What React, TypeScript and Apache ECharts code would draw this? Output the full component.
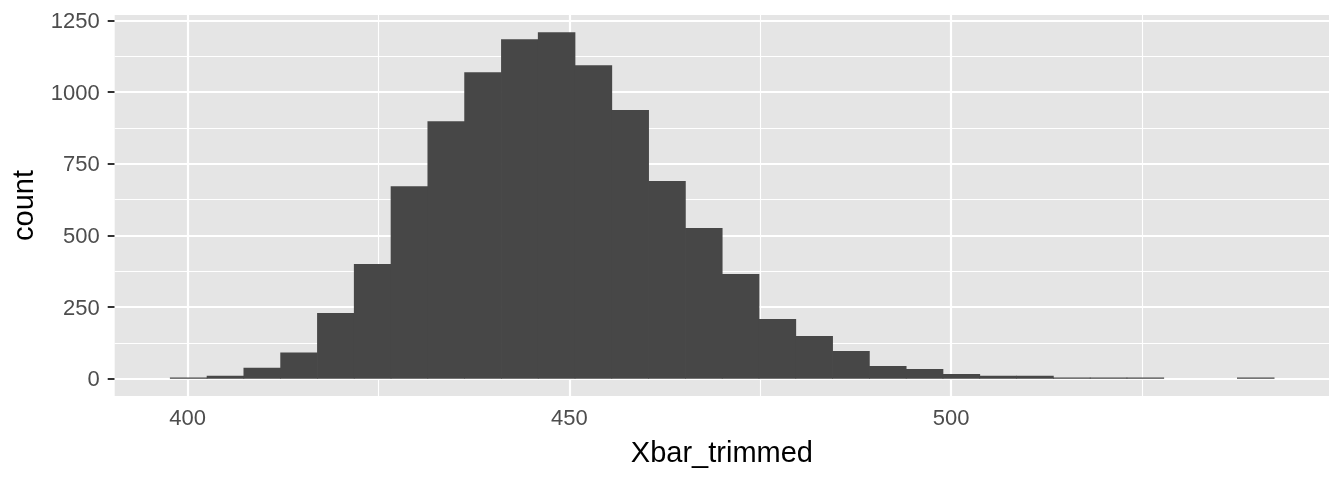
import React, { useEffect, useRef } from "react";
import * as echarts from "echarts";

// Histogram of Xbar_trimmed (30 bins)
const binStart = 397.68;
const binWidth = 4.82;
const counts = [
  4, 10, 38, 91, 229, 400, 672, 899, 1070, 1185,
  1209, 1094, 938, 690, 526, 365, 208, 149, 97, 44,
  34, 16, 10, 10, 4, 4, 4, 0, 0, 4,
];

const xMin = 390.45;
const xMax = 549.51;
const yMin = -60.45;
const yMax = 1269.45;

const xMajor = [400, 450, 500];
const xMinor = [425, 475, 525];
const yMajor = [0, 250, 500, 750, 1000, 1250];
const yMinor = [125, 375, 625, 875, 1125];

const xTitle = "Xbar_trimmed";
const yTitle = "count";

const FONT = '"Liberation Sans", Arial, Helvetica, sans-serif';

export default function App() {
  const ref = useRef<HTMLDivElement>(null);

  useEffect(() => {
    if (!ref.current) return;
    const chart = echarts.init(ref.current, null, { renderer: "svg" });

    const bins = counts.map((c, i) => [
      binStart + i * binWidth,
      binStart + (i + 1) * binWidth,
      c,
    ]);

    const gridLines: any[] = [];
    xMinor.forEach((v) =>
      gridLines.push({ xAxis: v, lineStyle: { width: 1.1, color: "#ffffff", type: "solid" } })
    );
    yMinor.forEach((v) =>
      gridLines.push({ yAxis: v, lineStyle: { width: 1.1, color: "#ffffff", type: "solid" } })
    );
    xMajor.forEach((v) =>
      gridLines.push({ xAxis: v, lineStyle: { width: 2.2, color: "#ffffff", type: "solid" } })
    );
    yMajor.forEach((v) =>
      gridLines.push({ yAxis: v, lineStyle: { width: 2.2, color: "#ffffff", type: "solid" } })
    );

    chart.setOption({
      animation: false,
      textStyle: { fontFamily: FONT },
      grid: {
        left: 114.7,
        right: 15,
        top: 15,
        bottom: 84,
        show: true,
        backgroundColor: "#e5e5e5",
        borderWidth: 0,
      },
      xAxis: {
        type: "value",
        min: xMin,
        max: xMax,
        axisLine: { show: false },
        splitLine: { show: false },
        axisTick: {
          show: true,
          length: 7,
          lineStyle: { color: "#333333", width: 2 },
          customValues: xMajor,
        },
        axisLabel: {
          customValues: xMajor,
          color: "#4d4d4d",
          fontSize: 22,
          fontFamily: FONT,
          margin: 10,
          formatter: (v: number) => String(v),
        },
      },
      yAxis: {
        type: "value",
        min: yMin,
        max: yMax,
        axisLine: { show: false },
        splitLine: { show: false },
        axisTick: {
          show: true,
          length: 7,
          lineStyle: { color: "#333333", width: 2 },
          customValues: yMajor,
        },
        axisLabel: {
          customValues: yMajor,
          color: "#4d4d4d",
          fontSize: 22,
          fontFamily: FONT,
          margin: 15,
          formatter: (v: number) => String(v),
        },
      },
      graphic: [
        {
          type: "text",
          x: 721.9,
          y: 452,
          style: {
            text: xTitle,
            fontSize: 29,
            fontFamily: FONT,
            fill: "#000000",
            textAlign: "center",
            textVerticalAlign: "middle",
          },
        },
        {
          type: "text",
          x: 23.3,
          y: 205.5,
          rotation: Math.PI / 2,
          style: {
            text: yTitle,
            fontSize: 29,
            fontFamily: FONT,
            fill: "#000000",
            textAlign: "center",
            textVerticalAlign: "middle",
          },
        },
      ],
      series: [
        {
          type: "scatter",
          data: [],
          z: 1,
          silent: true,
          markLine: {
            z: 1,
            silent: true,
            symbol: "none",
            label: { show: false },
            animation: false,
            data: gridLines,
          },
        },
        {
          type: "custom",
          z: 3,
          data: bins,
          encode: { x: [0, 1], y: 2 },
          renderItem: (params: any, api: any) => {
            const x0 = api.value(0);
            const x1 = api.value(1);
            const c = api.value(2);
            const pTop = api.coord([x0, c]);
            const pBot = api.coord([x1, 0]);
            return {
              type: "rect",
              shape: {
                x: pTop[0],
                y: pTop[1],
                width: pBot[0] - pTop[0] + 0.7,
                height: pBot[1] - pTop[1],
              },
              style: { fill: "#474747" },
            };
          },
        },
      ],
    });

    return () => chart.dispose();
  }, []);

  return (
    <div
      ref={ref}
      style={{ position: "fixed", left: 0, top: 0, width: 1344, height: 480 }}
    />
  );
}
